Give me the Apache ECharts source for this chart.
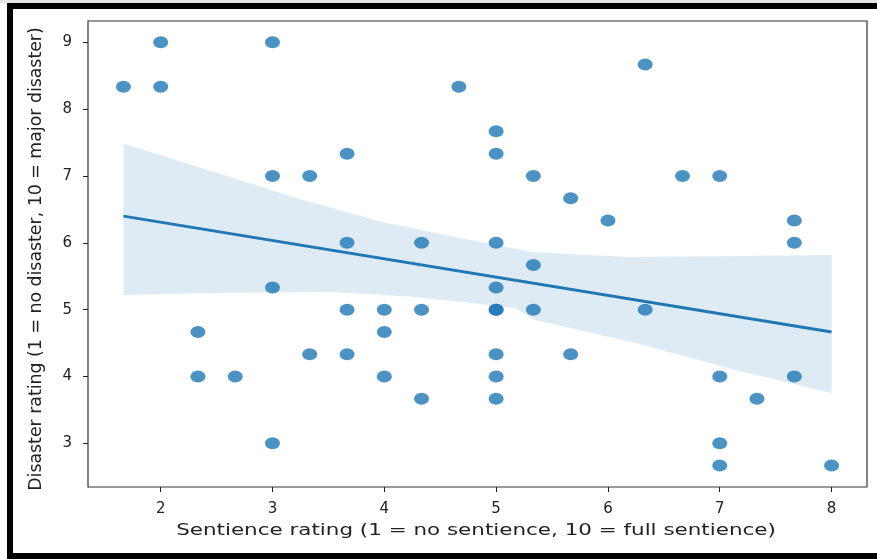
<!DOCTYPE html>
<html>
<head>
<meta charset="utf-8">
<script src="https://cdn.jsdelivr.net/npm/echarts@6/dist/echarts.min.js"></script>
<style>
  html, body { margin: 0; padding: 0; background: #ffffff; }
  #chart { width: 877px; height: 559px; }
</style>
</head>
<body>
<div id="chart"></div>
<script>
// Individual ratings: sentience (x) vs disaster (y)
const sentience = [
  1.667, 2, 2, 3, 6.333, 4.667, 5, 5, 3.667, 3, 3.333, 5.333, 6.667, 7,
  5.667, 6, 7.667, 7.667, 3.667, 4.333, 5, 5.333, 3, 5, 3.667, 4, 4.333,
  5, 5, 5.333, 6.333, 2.333, 4, 3.333, 3.667, 5, 5.667, 2.333, 2.667, 4,
  5, 7, 7.667, 4.333, 5, 7.333, 3, 7, 7, 8
];
const disaster = [
  8.333, 9, 8.333, 9, 8.667, 8.333, 7.667, 7.333, 7.333, 7, 7, 7, 7, 7,
  6.667, 6.333, 6.333, 6, 6, 6, 6, 5.667, 5.333, 5.333, 5, 5, 5,
  5, 5, 5, 5, 4.667, 4.667, 4.333, 4.333, 4.333, 4.333, 4, 4, 4,
  4, 4, 4, 3.667, 3.667, 3.667, 3, 3, 2.667, 2.667
];

// Fitted regression line (end points)
const fitX = [1.667, 8];
const fitY = [6.399, 4.665];

// Confidence band around the fit
const bandUpperX = [1.667, 2.4, 3.219, 3.988, 4.677, 5.33, 6.171, 7.0, 8];
const bandUpperY = [7.486, 7.1, 6.668, 6.309, 6.07, 5.861, 5.786, 5.8, 5.816];
const bandLowerX = [1.667, 2.43, 3.54, 4.2, 4.7, 5.17, 5.35, 6.25, 7.14, 8];
const bandLowerY = [5.218, 5.248, 5.263, 5.2, 5.114, 5.024, 4.845, 4.501, 4.097, 3.753];

// Axis ticks
const xTicks = [2, 3, 4, 5, 6, 7, 8];
const yTicks = [3, 4, 5, 6, 7, 8, 9];

const xLabel = 'Sentience rating (1 = no sentience, 10 = full sentience)';
const yLabel = 'Disaster rating (1 = no disaster, 10 = major disaster)';

const FONT = 'DejaVu Sans';
const BLUE = '#1f77b4';

const chart = echarts.init(document.getElementById('chart'), null, { renderer: 'canvas' });

const scatterData = sentience.map((x, i) => [x, disaster[i]]);
const fitData = fitX.map((x, i) => [x, fitY[i]]);
const bandData = [[bandUpperX[0], bandUpperY[0]]];

const axisCommon = {
  type: 'value',
  splitLine: { show: false },
  axisLine: { show: false },
  axisTick: { show: true, length: 5, lineStyle: { color: '#222', width: 1 } },
  axisLabel: { color: '#222', fontFamily: FONT, fontSize: 15 }
};

chart.setOption({
  animation: false,
  backgroundColor: '#ffffff',
  grid: {
    left: 88, top: 21, width: 779, height: 466,
    show: true, borderColor: '#333', borderWidth: 1.2, backgroundColor: 'transparent'
  },
  xAxis: Object.assign({}, axisCommon, {
    min: 1.35, max: 8.317,
    axisTick: Object.assign({}, axisCommon.axisTick, { customValues: xTicks }),
    axisLabel: Object.assign({}, axisCommon.axisLabel, { customValues: xTicks, margin: 15 })
  }),
  yAxis: Object.assign({}, axisCommon, {
    min: 2.347, max: 9.318,
    axisTick: Object.assign({}, axisCommon.axisTick, { customValues: yTicks }),
    axisLabel: Object.assign({}, axisCommon.axisLabel, { customValues: yTicks, margin: 16 })
  }),
  graphic: [
    { type: 'rect', shape: { x: 0, y: 0, width: 877, height: 3 }, style: { fill: '#e4e4e4' }, z: 100 },
    { type: 'rect', shape: { x: 7, y: 3, width: 870, height: 6 }, style: { fill: '#000' }, z: 100 },
    { type: 'rect', shape: { x: 7, y: 3, width: 6, height: 556 }, style: { fill: '#000' }, z: 100 },
    { type: 'rect', shape: { x: 7, y: 553, width: 870, height: 6 }, style: { fill: '#000' }, z: 100 },
    // axis titles
    {
      type: 'text', x: 476, y: 531, scaleX: 1.34, z: 50,
      style: {
        text: xLabel, fill: '#222', font: '16px "DejaVu Sans"',
        align: 'center', verticalAlign: 'middle'
      }
    },
    {
      type: 'text', x: 37, y: 259, rotation: Math.PI / 2, scaleX: 1.02, z: 50,
      style: {
        text: yLabel, fill: '#222', font: '17px "DejaVu Sans"',
        align: 'center', verticalAlign: 'middle'
      }
    }
  ],
  series: [
    {
      type: 'scatter',
      data: scatterData,
      symbol: 'circle',
      symbolSize: [15, 12],
      itemStyle: { color: BLUE, opacity: 0.8 },
      z: 2
    },
    {
      type: 'custom',
      data: bandData,
      z: 3,
      silent: true,
      renderItem: function (params, api) {
        const pts = [];
        for (let i = 0; i < bandUpperX.length; i++) {
          pts.push(api.coord([bandUpperX[i], bandUpperY[i]]));
        }
        for (let i = bandLowerX.length - 1; i >= 0; i--) {
          pts.push(api.coord([bandLowerX[i], bandLowerY[i]]));
        }
        return {
          type: 'polygon',
          shape: { points: pts },
          style: { fill: 'rgba(31,119,180,0.15)', stroke: null }
        };
      }
    },
    {
      type: 'line',
      data: fitData,
      showSymbol: false,
      lineStyle: { color: BLUE, width: 3 },
      z: 4
    }
  ]
});
</script>
</body>
</html>
